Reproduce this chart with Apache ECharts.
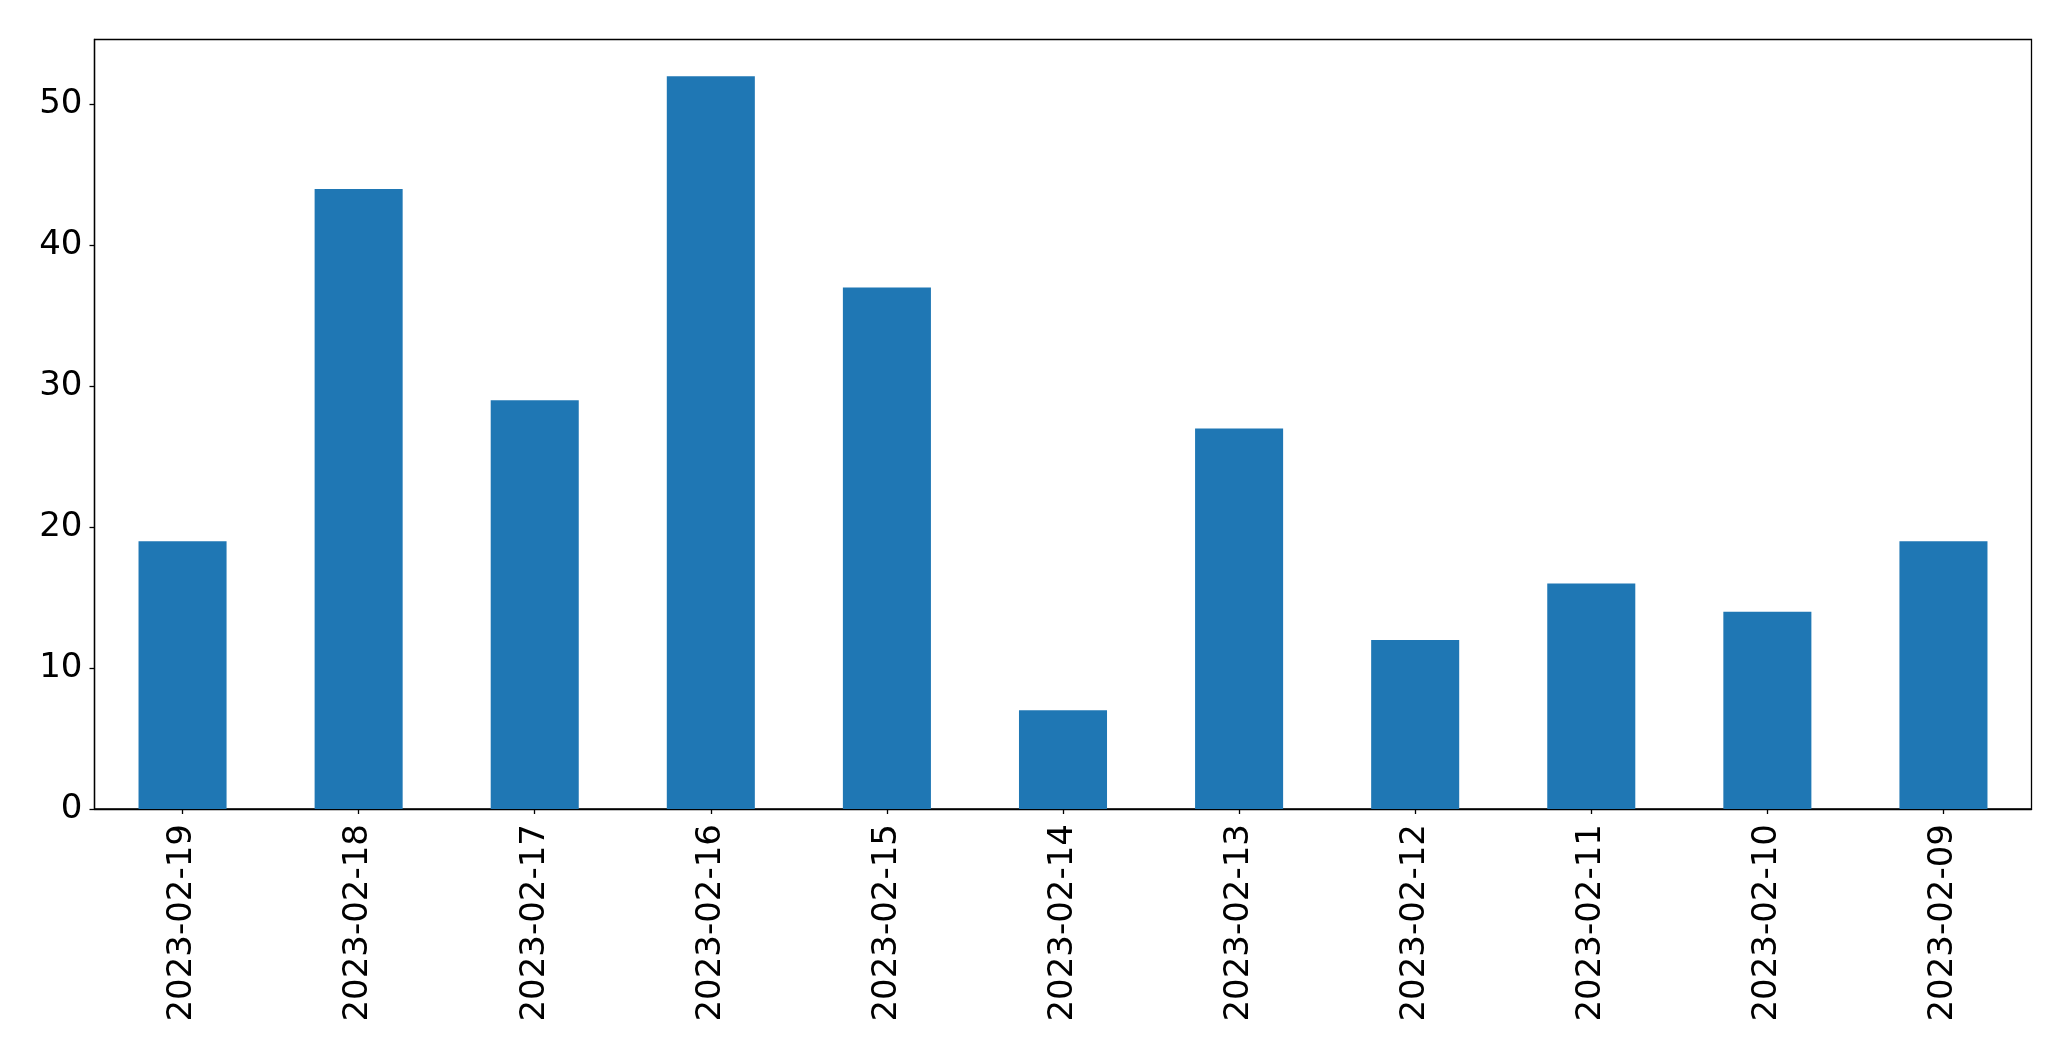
<!DOCTYPE html>
<html>
<head>
<meta charset="utf-8">
<script src="https://cdn.jsdelivr.net/npm/echarts@6/dist/echarts.min.js"></script>
<style>
html,body{margin:0;padding:0;background:#fff;}
#chart{width:2071px;height:1061px;}
</style>
</head>
<body>
<div id="chart"></div>
<script>
const categories = ["2023-02-19","2023-02-18","2023-02-17","2023-02-16","2023-02-15","2023-02-14","2023-02-13","2023-02-12","2023-02-11","2023-02-10","2023-02-09"];
const values = [19, 44, 29, 52, 37, 7, 27, 12, 16, 14, 19];
const yTicks = [0, 10, 20, 30, 40, 50];

const chart = echarts.init(document.getElementById('chart'), null, {renderer: 'canvas'});
const font = 'DejaVu Sans';
chart.setOption({
  animation: false,
  backgroundColor: '#ffffff',
  grid: {
    left: 94.5, right: 39.5, top: 39.5, bottom: 252,
    show: true, borderColor: '#000', borderWidth: 1.3, backgroundColor: 'transparent',
    containLabel: false
  },
  xAxis: {
    type: 'category',
    data: categories,
    boundaryGap: true,
    axisLine: {show: true, lineStyle: {color: '#000', width: 1.3}},
    axisTick: {show: true, alignWithLabel: true, length: 5, lineStyle: {color: '#000', width: 1.3}},
    axisLabel: {rotate: 90, margin: 15, color: '#000', fontFamily: font, fontSize: 34, interval: 0},
    splitLine: {show: false}
  },
  yAxis: {
    type: 'value',
    min: 0, max: 54.6,
    interval: 10,
    axisLine: {show: true, lineStyle: {color: '#000', width: 1.3}},
    axisTick: {show: true, length: 5, customValues: yTicks, lineStyle: {color: '#000', width: 1.3}},
    axisLabel: {margin: 12, color: '#000', fontFamily: font, fontSize: 34, customValues: yTicks},
    splitLine: {show: false}
  },
  series: [{
    type: 'bar',
    data: values,
    barWidth: '50%',
    itemStyle: {color: '#1f77b4'}
  }]
});
</script>
</body>
</html>
